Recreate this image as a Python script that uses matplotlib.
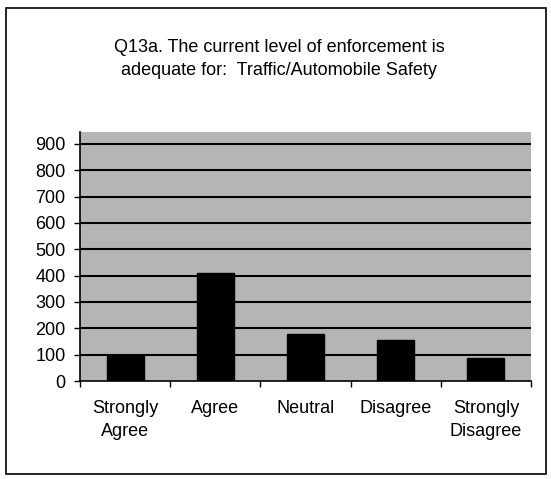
import matplotlib
matplotlib.use("Agg")
import matplotlib.pyplot as plt
from matplotlib.patches import Rectangle
import numpy as np

plt.rcParams['font.family'] = ['Liberation Sans', 'DejaVu Sans']

categories = ["Strongly\nAgree", "Agree", "Neutral", "Disagree", "Strongly\nDisagree"]
values = [94, 409, 179, 155, 89]
yticks = [0, 100, 200, 300, 400, 500, 600, 700, 800, 900]
title = "Q13a. The current level of enforcement is\nadequate for:  Traffic/Automobile Safety"

W, H = 551, 479
fig = plt.figure(figsize=(W/100, H/100), dpi=100)
fig.patch.set_facecolor("white")

# outer frame
fig.add_artist(Rectangle((5.5/W, 1 - 474/H), 540.5/W, 466/H, transform=fig.transFigure,
                         fill=False, edgecolor="black", linewidth=1.2))

fig.text(279/W, 1 - 59/H, title, ha="center", va="center", fontsize=13,
         linespacing=1.45)

left, right, top, bottom = 80, 531, 132, 381
ax = fig.add_axes([left/W, 1 - bottom/H, (right-left)/W, (bottom-top)/H])
ax.set_facecolor("#b5b5b5")

x = np.arange(len(categories))
ax.bar(x, values, width=0.41, color="black", edgecolor="black", zorder=3)

ax.set_xlim(-0.5, len(categories) - 0.5)
ax.set_ylim(0, 945)
ax.set_yticks(yticks)
ax.set_yticklabels([str(v) for v in yticks], fontsize=13)
for v in yticks[1:]:
    ax.axhline(v, color="black", linewidth=1.5, zorder=2)

ax.set_xticks(np.arange(len(categories) + 1) - 0.5)
ax.set_xticklabels([])
ax.set_xticks(x, minor=True)
ax.set_xticklabels(categories, minor=True, fontsize=13, linespacing=1.45, va="top")
ax.tick_params(axis="x", which="minor", length=0, pad=14)
ax.tick_params(axis="x", which="major", length=4.5, width=1, direction="out")
ax.tick_params(axis="y", length=4.5, width=1, direction="out", pad=6)

for s in ["top", "right"]:
    ax.spines[s].set_visible(False)
ax.spines["left"].set_linewidth(1.2)
ax.spines["bottom"].set_linewidth(1.2)

fig.savefig("out.png", dpi=100)
